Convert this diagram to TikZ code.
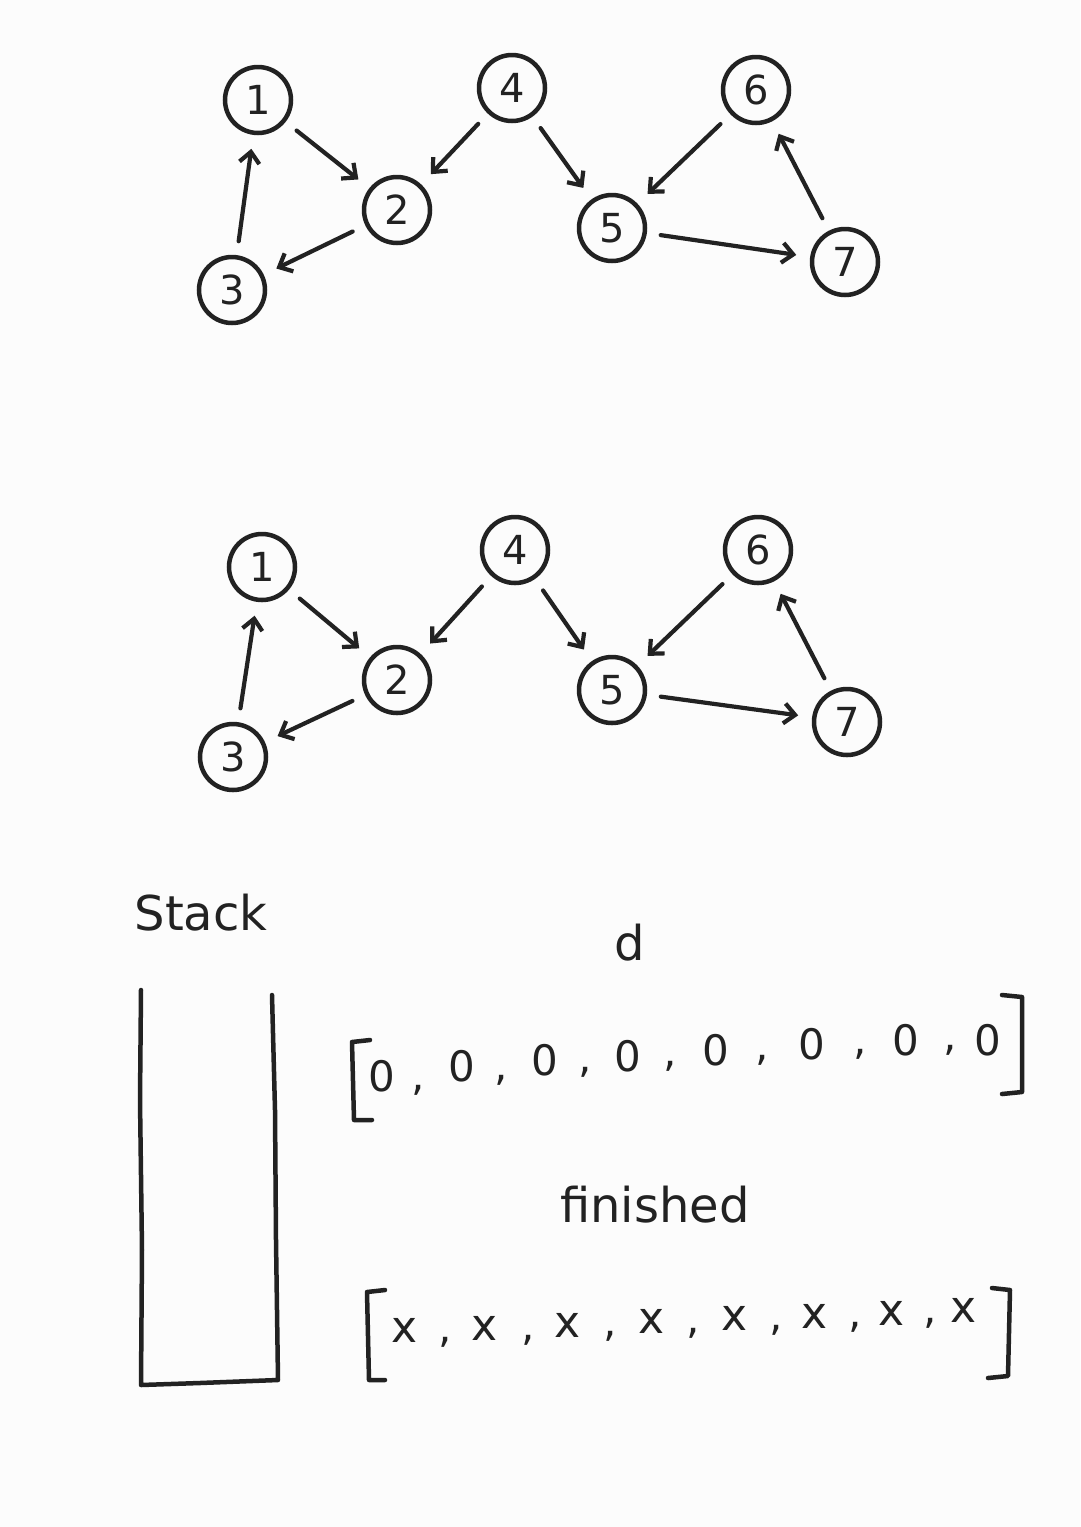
\documentclass[tikz,border=0pt]{standalone}
\usepackage{fontspec}
\setmainfont{DejaVu Sans}
\usetikzlibrary{arrows.meta}
\definecolor{ink}{HTML}{222222}
\definecolor{paper}{HTML}{FCFCFC}
\tikzset{
  gnode/.style={draw=ink, line width=4.5pt, circle, minimum size=66pt, inner sep=0pt,
    text=ink, font=\fontsize{40}{42}\selectfont},
  edge/.style={draw=ink, line width=4.2pt, line cap=round,
    -{Straight Barb[length=11pt,width=20pt,line width=4.2pt]},
    shorten <=14pt, shorten >=14pt},
  hand/.style={draw=ink, line width=4.5pt, line cap=round, line join=round},
  lab/.style={text=ink, inner sep=0pt},
  elem/.style={text=ink, inner sep=0pt, font=\fontsize{42}{44}\selectfont},
}
\begin{document}
\begin{tikzpicture}[x=1pt,y=-1pt]
\fill[paper] (0,0) rectangle (1080,1527);
\useasboundingbox (0,0) rectangle (1080,1527);

% ---- graph 1
\node[gnode] (a1) at (258,100) {1};
\node[gnode] (a2) at (397,210) {2};
\node[gnode] (a3) at (232,290) {3};
\node[gnode] (a4) at (512,88) {4};
\node[gnode] (a5) at (612,228) {5};
\node[gnode] (a6) at (756,90) {6};
\node[gnode] (a7) at (845,262) {7};
\draw[edge] (a1) -- (a2);
\draw[edge] (a3) -- (a1);
\draw[edge] (a2) -- (a3);
\draw[edge] (a4) -- (a2);
\draw[edge] (a4) -- (a5);
\draw[edge] (a6) -- (a5);
\draw[edge] (a5) -- (a7);
\draw[edge] (a7) -- (a6);

% ---- graph 2
\node[gnode] (b1) at (262,567) {1};
\node[gnode] (b2) at (397,680) {2};
\node[gnode] (b3) at (233,757) {3};
\node[gnode] (b4) at (515,550) {4};
\node[gnode] (b5) at (612,690) {5};
\node[gnode] (b6) at (758,550) {6};
\node[gnode] (b7) at (847,722) {7};
\draw[edge] (b1) -- (b2);
\draw[edge] (b3) -- (b1);
\draw[edge] (b2) -- (b3);
\draw[edge] (b4) -- (b2);
\draw[edge] (b4) -- (b5);
\draw[edge] (b6) -- (b5);
\draw[edge] (b5) -- (b7);
\draw[edge] (b7) -- (b6);

% ---- stack
\node[lab, font=\fontsize{48}{50}\selectfont] (stk) at (201,913) {Stack};
\coordinate (sTL) at (141,990);
\coordinate (sBL) at (141,1385);
\coordinate (sBR) at (278,1380);
\coordinate (sTR) at (272,995);
\draw[hand] (sTL) -- (140,1100) -- (142,1250) -- (sBL) -- (200,1383) -- (sBR) -- (276,1240) -- (275,1110) -- (sTR);

% ---- d
\node[lab, font=\fontsize{48}{50}\selectfont] (dl) at (630,943) {d};
\coordinate (dL1) at (370,1040);
\coordinate (dL2) at (352,1042);
\coordinate (dL3) at (354,1120);
\coordinate (dL4) at (372,1120);
\draw[hand] (dL1) -- (dL2) -- (dL3) -- (dL4);
\coordinate (dR1) at (1002,995);
\coordinate (dR2) at (1022,997);
\coordinate (dR3) at (1022,1092);
\coordinate (dR4) at (1002,1094);
\draw[hand] (dR1) -- (dR2) -- (dR3) -- (dR4);
\foreach \i/\x/\y in {1/382/1076,2/462/1066,3/545/1060,4/628/1056,5/716/1050,6/812/1044,7/906/1040,8/988/1040}{
  \node[elem] (d\i) at (\x,\y) {0};
}
\foreach \i/\x/\y in {1/418/1090,2/501/1080,3/585/1072,4/670/1066,5/762/1060,6/860/1054,7/950/1050}{
  \node[elem] (dc\i) at (\x,\y) {,};
}

% ---- finished
\node[lab, font=\fontsize{48}{50}\selectfont] (fin) at (655,1205) {finished};
\coordinate (fL1) at (385,1290);
\coordinate (fL2) at (367,1292);
\coordinate (fL3) at (369,1380);
\coordinate (fL4) at (385,1380);
\draw[hand] (fL1) -- (fL2) -- (fL3) -- (fL4);
\coordinate (fR1) at (992,1288);
\coordinate (fR2) at (1010,1290);
\coordinate (fR3) at (1008,1376);
\coordinate (fR4) at (988,1378);
\draw[hand] (fR1) -- (fR2) -- (fR3) -- (fR4);
\foreach \i/\x/\y in {1/405/1330,2/485/1328,3/568/1325,4/652/1321,5/735/1318,6/815/1316,7/892/1313,8/964/1310}{
  \node[elem, font=\fontsize{44}{46}\selectfont] (x\i) at (\x,\y) {x};
}
\foreach \i/\x/\y in {1/445/1342,2/528/1340,3/610/1336,4/693/1333,5/776/1330,6/855/1327,7/930/1323}{
  \node[elem] (xc\i) at (\x,\y) {,};
}
\end{tikzpicture}
\end{document}
